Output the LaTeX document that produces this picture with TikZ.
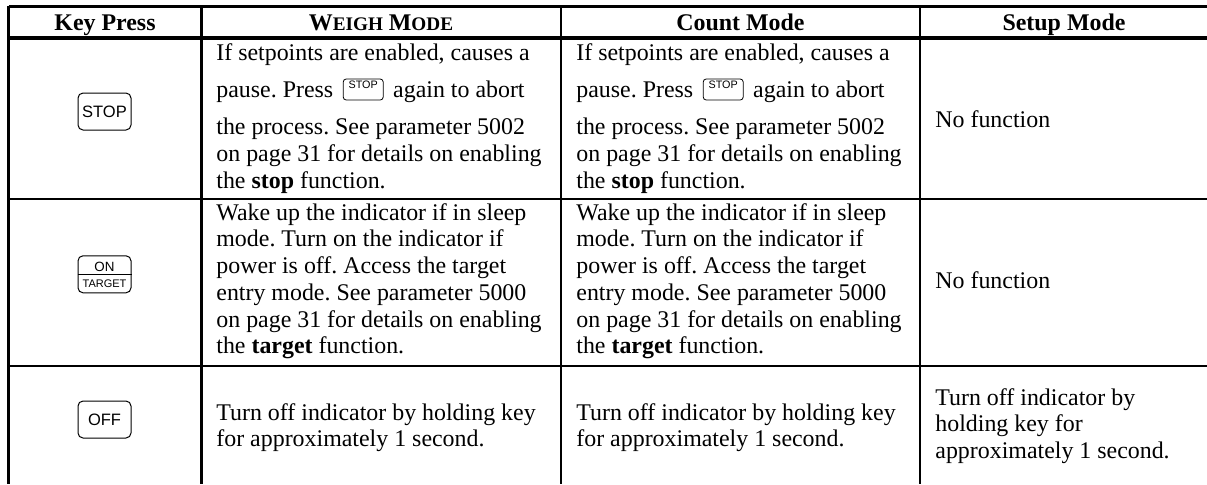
\documentclass[tikz,border=0pt]{standalone}
\usepackage{fontspec}
\setmainfont{Liberation Serif}
\newfontfamily\keyfont{Liberation Sans}
\newcommand{\fakesc}[2]{#1{\fontsize{9.6}{10}\selectfont #2}}
\newlength\presswd
\frenchspacing
\begin{document}
\settowidth{\presswd}{\fontsize{11.95}{13.35}\selectfont pause. Press}
\begin{tikzpicture}[x=0.5pt,y=-0.5pt,
	rule/.style={line width=1.25pt},
	boldrule/.style={line width=1.75pt},
	headtext/.style={anchor=base,inner sep=0pt,font=\fontsize{11.95}{13.35}\selectfont\bfseries},
	celltext/.style={anchor=north west,align=left,inner sep=0pt,font=\fontsize{11.95}{13.35}\selectfont,execute at begin node=\strut},
	keybox/.style={draw,rounded corners=2.5pt,line width=0.5pt,minimum width=26.5pt,minimum height=18.5pt,inner sep=0pt,font=\keyfont\fontsize{8.25}{9}\selectfont},
	smallkey/.style={draw,rounded corners=1.5pt,line width=0.4pt,minimum width=20pt,minimum height=10.5pt,inner sep=0pt,anchor=west,xshift=\presswd+5pt,font=\keyfont\fontsize{5.4}{6}\selectfont}]
	\useasboundingbox (0,0) rectangle (1207,484);

	% grid
	\draw[boldrule] (8.7,6.3) -- (1207,6.3);
	\draw[boldrule] (8.7,38) -- (1207,38);
	\draw[boldrule] (8.7,6.3) -- (8.7,484);
	\draw[rule] (8.7,199) -- (1207,199);
	\draw[rule] (8.7,366) -- (1207,366);
	\draw[rule] (201.3,6.3) -- (201.3,484);
	\draw[rule] (561,6.3) -- (561,484);
	\draw[rule] (920,6.3) -- (920,484);

	% header
	\node[headtext] (keyhead) at (105,30.7) {Key Press};
	\node[headtext] (weighhead) at (381,30.7) {\fakesc{W}{EIGH} \fakesc{M}{ODE}};
	\node[headtext] (counthead) at (740.5,30.7) {Count Mode};
	\node[headtext] (setuphead) at (1064,30.7) {Setup Mode};

	% keys
	\node[keybox] (stopkey) at (104.5,111.5) {STOP};
	\node[keybox] (onkey) at (104.5,274.3) {};
	\draw[line width=0.5pt] (onkey.west) -- (onkey.east);
	\node[anchor=base,inner sep=0pt,font=\keyfont\fontsize{6.7}{7}\selectfont] (ontext) at (104.5,271) {ON};
	\node[anchor=base,inner sep=0pt,font=\keyfont\fontsize{5.5}{6}\selectfont] (targettext) at (104.5,287.7) {TARGET};
	\node[keybox] (offkey) at (104.5,419.5) {OFF};

	% weigh mode
	\node[celltext] (weighstop) at (216,43) {If setpoints are enabled, causes a\\[5.3pt]
		pause. Press\hspace{30pt}again to abort\\[5.3pt]
		the process. See parameter 5002\\
		on page 31 for details on enabling\\
		the \textbf{stop} function.};
	\node[smallkey] (weighstopkey) at (216,89.5) {\raisebox{4.5pt}{STOP}};
	\node[celltext] (weighon) at (216,203) {Wake up the indicator if in sleep\\
		mode. Turn on the indicator if\\
		power is off. Access the target\\
		entry mode. See parameter 5000\\
		on page 31 for details on enabling\\
		the \textbf{target} function.};
	\node[celltext] (weighoff) at (216,403) {Turn off indicator by holding key\\
		for approximately 1 second.};

	% count mode
	\node[celltext] (countstop) at (576,43) {If setpoints are enabled, causes a\\[5.3pt]
		pause. Press\hspace{30pt}again to abort\\[5.3pt]
		the process. See parameter 5002\\
		on page 31 for details on enabling\\
		the \textbf{stop} function.};
	\node[smallkey] (countstopkey) at (576,89.5) {\raisebox{4.5pt}{STOP}};
	\node[celltext] (counton) at (576,203) {Wake up the indicator if in sleep\\
		mode. Turn on the indicator if\\
		power is off. Access the target\\
		entry mode. See parameter 5000\\
		on page 31 for details on enabling\\
		the \textbf{target} function.};
	\node[celltext] (countoff) at (576,403) {Turn off indicator by holding key\\
		for approximately 1 second.};

	% setup mode
	\node[celltext] (setupstop) at (935,108) {No function};
	\node[celltext] (setupon) at (935,269.3) {No function};
	\node[celltext] (setupoff) at (935,388) {Turn off indicator by\\
		holding key for\\
		approximately 1 second.};

\end{tikzpicture}
\end{document}
